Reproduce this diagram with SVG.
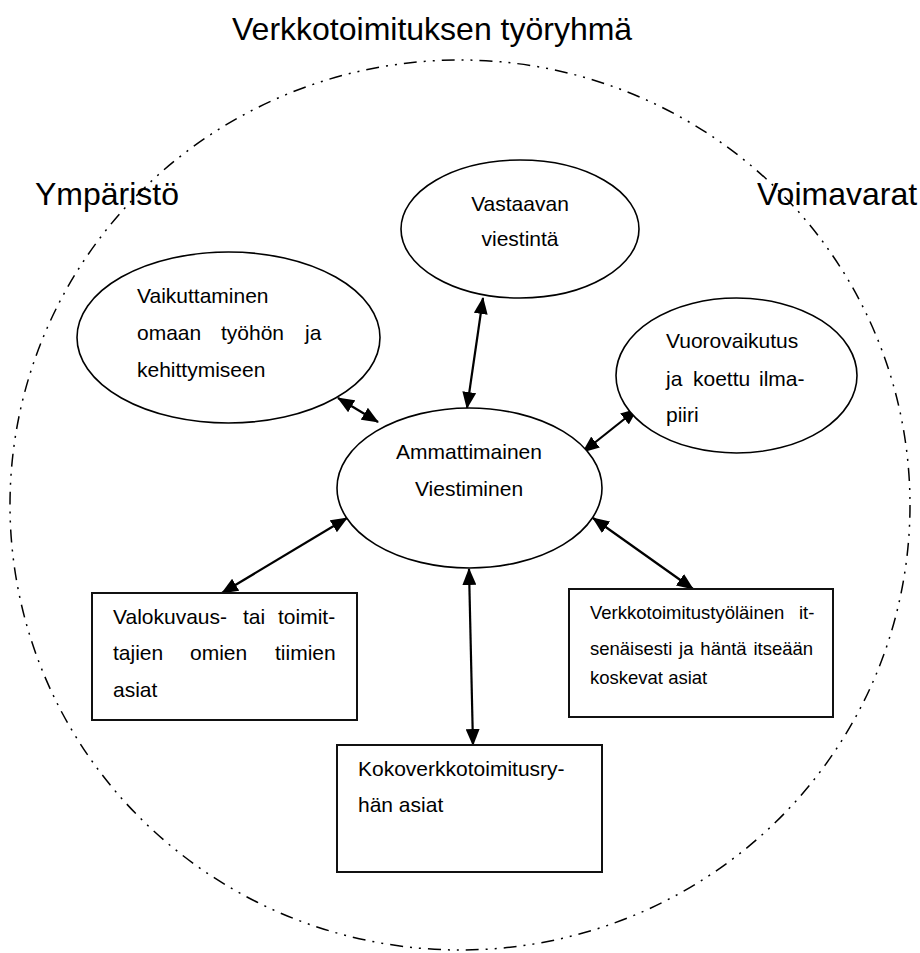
<svg xmlns="http://www.w3.org/2000/svg" width="920" height="953" viewBox="0 0 920 953">
<defs>
<style>
.t{font-family:"Liberation Sans",Arial,sans-serif;font-size:21px;fill:#000}
.s{font-size:18.5px}
.big{font-family:"Liberation Sans",Arial,sans-serif;font-size:32px;fill:#000}
.el{fill:#fff;stroke:#000;stroke-width:1.6}
.bx{fill:#fff;stroke:#111;stroke-width:2}
.ar{stroke:#000;stroke-width:2.2;fill:none;marker-start:url(#ah);marker-end:url(#ah)}
.outer{fill:none;stroke:#000;stroke-width:1.5;stroke-dasharray:13 7 2 7 2 7}
</style>
<marker id="ah" markerUnits="userSpaceOnUse" markerWidth="17" markerHeight="14" refX="16" refY="7" orient="auto-start-reverse">
<path d="M0,0 L17,7 L0,14 z" fill="#000"/>
</marker>
</defs>
<rect width="920" height="953" fill="#fff"/>
<g id="outer">
<ellipse class="outer" cx="460" cy="505" rx="450" ry="445"/>
</g>
<g id="labels">
<text class="big" x="232" y="40">Verkkotoimituksen työryhmä</text>
<text class="big" x="35" y="205">Ympäristö</text>
<text class="big" x="757" y="205">Voimavarat</text>
</g>
<g id="connectors">
<line class="ar" x1="483" y1="298" x2="467" y2="408"/>
<line class="ar" x1="338" y1="398" x2="378" y2="422"/>
<line class="ar" x1="637" y1="409" x2="583" y2="452"/>
<line class="ar" x1="347" y1="518" x2="222" y2="593"/>
<line class="ar" x1="469" y1="569" x2="473" y2="745"/>
<line class="ar" x1="593" y1="518" x2="693" y2="589"/>
</g>
<g id="vastaavan">
<ellipse class="el" cx="520" cy="229" rx="119" ry="69"/>
<text class="t" x="520" y="211" text-anchor="middle">Vastaavan</text>
<text class="t" x="520" y="246" text-anchor="middle">viestintä</text>
</g>
<g id="vaikuttaminen">
<ellipse class="el" cx="228.5" cy="337.5" rx="151.5" ry="85.5"/>
<text class="t" x="137" y="303">Vaikuttaminen</text>
<text class="t" y="340"><tspan x="137">omaan</tspan><tspan x="221">työhön</tspan><tspan x="305">ja</tspan></text>
<text class="t" x="137" y="377">kehittymiseen</text>
</g>
<g id="vuorovaikutus">
<ellipse class="el" cx="736.5" cy="375.5" rx="120.5" ry="77.5"/>
<text class="t" x="666" y="348">Vuorovaikutus</text>
<text class="t" y="386"><tspan x="666">ja</tspan><tspan x="693">koettu</tspan><tspan x="759">ilma-</tspan></text>
<text class="t" x="666" y="422">piiri</text>
</g>
<g id="ammattimainen">
<ellipse class="el" cx="469.5" cy="488" rx="132.5" ry="80"/>
<text class="t" x="469" y="459" text-anchor="middle">Ammattimainen</text>
<text class="t" x="469" y="496" text-anchor="middle">Viestiminen</text>
</g>
<g id="valokuvaus">
<rect class="bx" x="92" y="593" width="265" height="127"/>
<text class="t" y="624"><tspan x="113">Valokuvaus-</tspan><tspan x="243">tai</tspan><tspan x="278">toimit-</tspan></text>
<text class="t" y="660"><tspan x="113">tajien</tspan><tspan x="190">omien</tspan><tspan x="275">tiimien</tspan></text>
<text class="t" x="113" y="697">asiat</text>
</g>
<g id="verkkotyolainen">
<rect class="bx" x="569" y="589" width="264" height="128"/>
<text class="t s" y="619"><tspan x="590">Verkkotoimitustyöläinen</tspan><tspan x="799">it-</tspan></text>
<text class="t s" x="590" y="655" word-spacing="1.7">senäisesti ja häntä itseään</text>
<text class="t s" x="590" y="684">koskevat asiat</text>
</g>
<g id="kokoverkko">
<rect class="bx" x="337" y="745" width="265" height="127"/>
<text class="t" x="358" y="776">Kokoverkkotoimitusry-</text>
<text class="t" x="358" y="812">hän asiat</text>
</g>
</svg>
